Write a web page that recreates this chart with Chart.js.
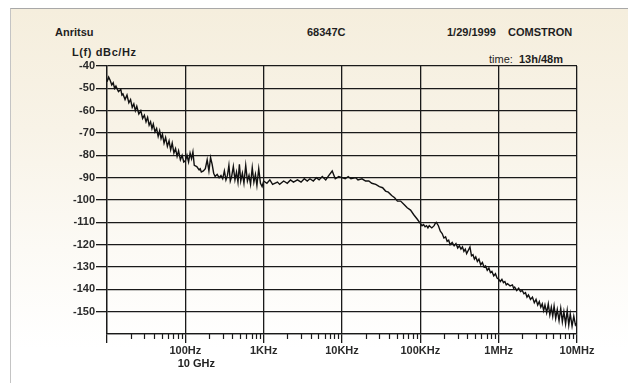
<!DOCTYPE html>
<html>
<head>
<meta charset="utf-8">
<script src="https://cdn.jsdelivr.net/npm/chart.js@4/dist/chart.umd.min.js"></script>
<style>
  body { margin: 0; background: #fff; }
  #wrap { position: relative; width: 628px; height: 383px; overflow: hidden; background: #fff; }
  #paper {
    position: absolute; left: 10px; top: 8px; width: 640px; height: 400px;
    border-left: 1px solid #c4c4c4; border-top: 1px solid #a8a8a8;
    background: linear-gradient(180deg, #f5eedd 0%, #f8f3e7 30%, #fcfaf5 60%, #ffffff 85%);
  }
  .txt { position: absolute; font-family: "Liberation Sans", Arial, sans-serif; font-size: 11px; font-weight: bold; color: #1e1e1e; white-space: nowrap; line-height: 12px; }
  #c { position: absolute; left: 0; top: 0; }
</style>
</head>
<body>
<div id="wrap">
  <div id="paper"></div>
  <div class="txt" style="left:55px;top:26px;">Anritsu</div>
  <div class="txt" style="left:307px;top:26px;">68347C</div>
  <div class="txt" style="left:447px;top:26px;">1/29/1999</div>
  <div class="txt" style="left:508px;top:26px;">COMSTRON</div>
  <div class="txt" style="left:72px;top:46px;letter-spacing:0.6px;">L(f) dBc/Hz</div>
  <div class="txt" style="left:489px;top:53px;"><span style="font-weight:normal;">time:</span>&nbsp; 13h/48m</div>
  <canvas id="c" width="628" height="383"></canvas>
</div>
<script>
// offset frequency (Hz) of the trace samples, one line per decade
var freqHz = [
  10, 10.5, 11, 11.5, 12, 12.5, 13, 14, 15, 15.5, 16, 17, 18, 19, 20, 21, 22, 23, 24, 25.5, 27, 28.5, 30, 31.5,
  33, 34.5, 36, 37.5, 39, 41, 43, 45, 47, 49, 51, 53.5, 56, 59, 62, 65, 68, 71.5, 75, 78.5, 82, 86.5, 91, 95.5,
  100, 105, 110, 115, 120, 125, 130, 140, 150, 155, 160, 170, 180, 190, 200, 210, 220, 230, 240, 255, 270, 285, 300, 315,
  330, 345, 360, 375, 390, 410, 430, 450, 470, 490, 510, 535, 560, 590, 620, 650, 680, 715, 750, 785, 820, 865, 910, 955,
  1e3, 1.1e3, 1.2e3, 1.3e3, 1.5e3, 1.6e3, 1.8e3, 2e3, 2.2e3, 2.4e3, 2.7e3, 3e3, 3.3e3, 3.6e3, 3.9e3, 4.3e3, 4.7e3, 5.1e3, 5.6e3, 6.2e3, 6.8e3, 7.5e3, 8.2e3, 9.1e3,
  1e4, 1.1e4, 1.2e4, 1.3e4, 1.5e4, 1.6e4, 1.8e4, 2e4, 2.2e4, 2.4e4, 2.7e4, 3e4, 3.3e4, 3.6e4, 3.9e4, 4.3e4, 4.7e4, 5.1e4, 5.6e4, 6.2e4, 6.8e4, 7.5e4, 8.2e4, 9.1e4,
  1e5, 1.05e5, 1.1e5, 1.15e5, 1.2e5, 1.25e5, 1.3e5, 1.4e5, 1.5e5, 1.55e5, 1.6e5, 1.7e5, 1.8e5, 1.9e5, 2e5, 2.1e5, 2.2e5, 2.3e5, 2.4e5, 2.55e5, 2.7e5, 2.85e5, 3e5, 3.15e5,
  3.3e5, 3.45e5, 3.6e5, 3.75e5, 3.9e5, 4.1e5, 4.3e5, 4.5e5, 4.7e5, 4.9e5, 5.1e5, 5.35e5, 5.6e5, 5.9e5, 6.2e5, 6.5e5, 6.8e5, 7.15e5, 7.5e5, 7.85e5, 8.2e5, 8.65e5, 9.1e5, 9.55e5,
  1e6, 1.05e6, 1.1e6, 1.15e6, 1.2e6, 1.25e6, 1.3e6, 1.4e6, 1.5e6, 1.55e6, 1.6e6, 1.7e6, 1.8e6, 1.9e6, 2e6, 2.1e6, 2.2e6, 2.3e6, 2.4e6, 2.55e6, 2.7e6, 2.85e6, 3e6, 3.15e6,
  3.3e6, 3.45e6, 3.6e6, 3.75e6, 3.9e6, 4.1e6, 4.3e6, 4.5e6, 4.7e6, 4.9e6, 5.1e6, 5.35e6, 5.6e6, 5.9e6, 6.2e6, 6.5e6, 6.8e6, 7.15e6, 7.5e6, 7.85e6, 8.2e6, 8.65e6, 9.1e6, 9.55e6,
  1e7
];

// phase noise L(f) in dBc/Hz
var levelDb = [
  -47, -45, -46.5, -48.5, -47.5, -50, -49, -51.5, -50.5, -53, -52.5, -55, -53, -56.5, -55, -58.5, -57, -60, -58, -61.5, -60, -63.5, -62, -65,
  -63, -66.5, -65, -68, -66, -69.5, -68, -71.5, -69, -72.5, -70.5, -74.5, -72, -76, -73.5, -77.5, -74.5, -79, -77, -80.5, -78, -82, -80, -83,
  -82.5, -80, -83, -79, -81.5, -78.5, -84.5, -85, -86.5, -86, -87.5, -87, -86, -82, -87, -81, -84, -88, -89.5, -88.5, -90, -89, -90.5, -87,
  -91, -89, -84.5, -91.5, -89.5, -85, -91, -87.5, -92, -84, -91.5, -88, -92.5, -84.5, -91.5, -89, -93, -85.5, -92, -88.5, -93.5, -86, -92.5, -94,
  -91.5, -92.5, -91, -93, -92, -93, -91.5, -92.5, -91, -92, -91, -92, -90.5, -91.5, -90.5, -91.5, -90, -91, -89.5, -91, -89, -87, -90.5, -89.5,
  -90, -90.5, -89.5, -90.5, -90, -91, -90.5, -91.5, -91.5, -92.5, -93, -94, -94.5, -96, -96.5, -98, -99, -100.5, -100.5, -102, -103.5, -104.5, -106.5, -108.5,
  -110.5, -111.5, -111, -112, -111.5, -112.5, -111.5, -112.5, -111.5, -110.5, -110, -111.5, -114, -115, -117, -116.5, -118.5, -118, -120, -119, -120.5, -119.5, -121.5, -120.5,
  -122, -121, -123, -122, -124, -122.5, -121, -125, -124.5, -126.5, -125.5, -127.5, -126.5, -129, -128, -130, -129.5, -131.5, -130.5, -132.5, -132, -134, -133, -135,
  -135.5, -136.5, -135.5, -137, -136.5, -138, -137.5, -138.5, -138, -139.5, -139, -140.5, -139.5, -141, -140.5, -142, -141.5, -143.5, -142.5, -144.5, -143.5, -146, -144.5, -147,
  -145.5, -148, -146.5, -149.5, -147, -150.5, -146.5, -151.5, -148, -152, -147.5, -153, -149, -154, -148.5, -154.5, -150, -155.5, -149.5, -156, -151, -156.5, -152, -156,
  -155
];

var decadeTicks = [10, 100, 1e3, 1e4, 1e5, 1e6, 1e7];
var xTickLabels = ['', '100Hz', '1KHz', '10KHz', '100KHz', '1MHz', '10MHz'];
var minorSteps = [2, 3, 4, 5, 6, 7, 8, 9];
var carrierLabel = '10 GHz';

var ink = '#1a1a1a';

// small tick marks under the x axis + carrier note
var extras = {
  id: 'extras',
  afterDraw: function(chart) {
    var c = chart.ctx, xs = chart.scales.x, bottom = chart.chartArea.bottom;
    c.save();
    c.strokeStyle = ink;
    c.lineWidth = 1.2;
    decadeTicks.slice(0, -1).forEach(function(d) {
      minorSteps.forEach(function(m) {
        var px = Math.round(xs.getPixelForValue(d * m)) + 0.5;
        c.beginPath();
        c.moveTo(px, bottom);
        c.lineTo(px, bottom + 5);
        c.stroke();
      });
    });
    c.fillStyle = '#222';
    c.font = 'bold 11px "Liberation Sans", Arial, sans-serif';
    c.textAlign = 'center';
    c.textBaseline = 'middle';
    c.fillText(carrierLabel, xs.getPixelForValue(100) + 11, 364);
    c.restore();
  }
};

var ctx = document.getElementById('c').getContext('2d');
var chart = new Chart(ctx, {
  type: 'line',
  data: {
    datasets: [{
      data: freqHz.map(function(f, i) { return { x: f, y: levelDb[i] }; }),
      borderColor: '#111',
      borderWidth: 1.4,
      pointRadius: 0,
      tension: 0,
      fill: false
    }]
  },
  options: {
    responsive: false,
    animation: false,
    layout: { padding: { left: 0, right: 51, top: 66, bottom: 0 } },
    plugins: { legend: { display: false }, tooltip: { enabled: false } },
    scales: {
      x: {
        type: 'logarithmic',
        min: 10,
        max: 1e7,
        afterBuildTicks: function(scale) {
          scale.ticks = decadeTicks.map(function(v) { return { value: v }; });
        },
        afterFit: function(scale) { scale.height = 49; },
        grid: { color: ink, lineWidth: 1.3, tickLength: 9, tickColor: ink },
        border: { color: ink, width: 1.3 },
        ticks: {
          autoSkip: false,
          maxRotation: 0,
          padding: 1,
          color: '#2a2a2a',
          font: { family: '"Liberation Sans", Arial, sans-serif', size: 11, weight: 'bold' },
          callback: function(v, i) { return xTickLabels[i]; }
        }
      },
      y: {
        min: -160,
        max: -40,
        afterFit: function(scale) { scale.width = 107; },
        grid: {
          color: ink,
          lineWidth: 1.3,
          tickLength: 11,
          tickColor: function(c) { return c.tick && c.tick.value === -160 ? 'rgba(0,0,0,0)' : ink; }
        },
        border: { color: ink, width: 1.3 },
        ticks: {
          stepSize: 10,
          padding: 1,
          color: '#2a2a2a',
          font: { family: '"Liberation Sans", Arial, sans-serif', size: 11, weight: 'bold' },
          callback: function(v) { return v === -160 ? '' : String(v); }
        }
      }
    }
  },
  plugins: [extras]
});
</script>
</body>
</html>
